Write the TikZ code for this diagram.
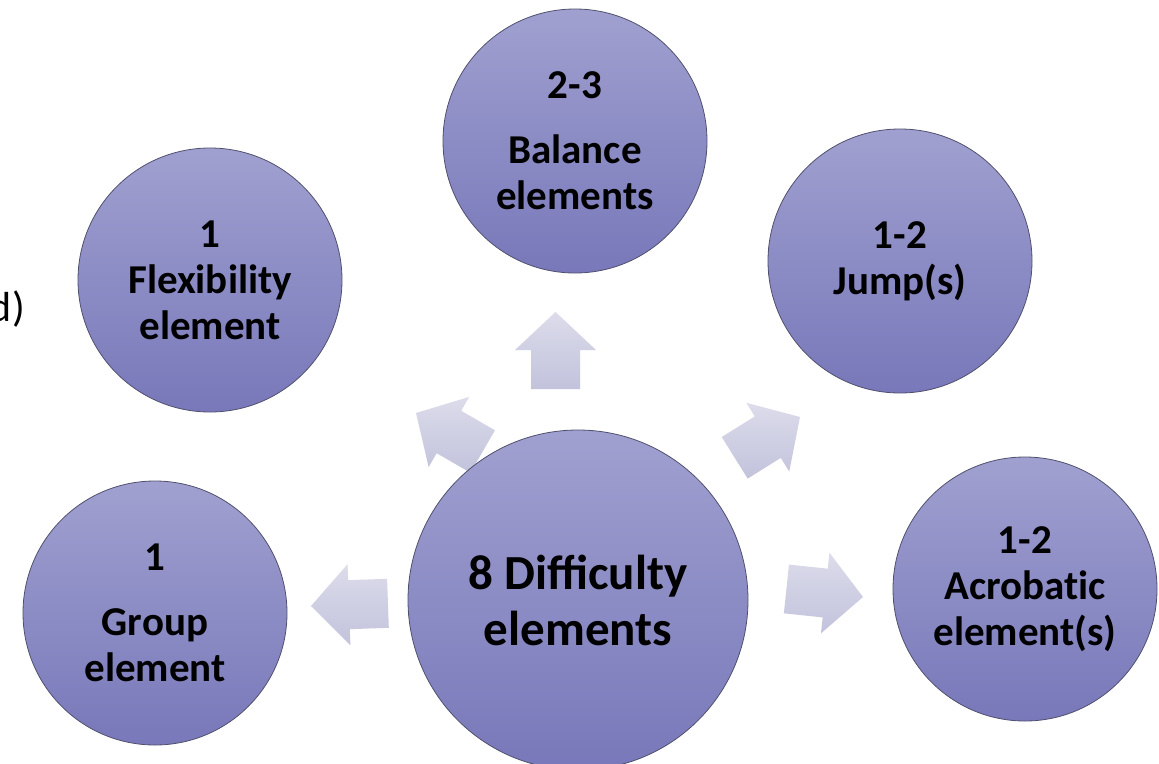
\documentclass[tikz,border=0pt]{standalone}
\usepackage{fontspec}
\setmainfont{Carlito}
\definecolor{cTop}{RGB}{160,160,208}
\definecolor{cBot}{RGB}{120,120,186}
\definecolor{cLine}{RGB}{80,80,110}
\definecolor{aTop}{RGB}{220,220,235}
\definecolor{aBot}{RGB}{194,194,220}
\tikzset{
  arrowfill/.style={top color=aTop, bottom color=aBot, draw=none},
  barrow/.pic={\path[arrowfill] (-77,-24.5) -- (-38,-24.5) -- (-38,-40.5) -- (0,0) -- (-38,40.5) -- (-38,24.5) -- (-77,24.5) -- cycle;},
  circ/.style={circle, draw=cLine, line width=0.8pt, top color=cTop, bottom color=cBot,
    minimum size=264pt, inner sep=0pt, align=center,
    font=\bfseries\fontsize{41}{46}\selectfont},
  bigcirc/.style={circ, minimum size=340pt, font=\bfseries\fontsize{49}{56}\selectfont},
}
\begin{document}
\begin{tikzpicture}[x=1pt,y=-1pt]
\useasboundingbox (0,0) rectangle (1159,763);
\clip (0,0) rectangle (1159,763);
\fill[white] (0,0) rectangle (1159,763);
% block arrows
\pic[rotate=90] at (555.5,312) {barrow};
\pic[rotate=150] at (416,413) {barrow};
\pic[rotate=32] at (800,417) {barrow};
\pic[rotate=182] at (311,606) {barrow};
\pic[rotate=-6] at (863,597) {barrow};
% circles
\node[circ] (bal) at (575,141) {2-3\\[19pt]Balance\\elements};
\node[circ] (flex) at (210,280) {1\\Flexibility\\element};
\node[circ] (jump) at (900,261) {1-2\\Jump(s)};
\node[circ] (grp) at (155,613) {1\\[19pt]Group\\element};
\node[circ] (acro) at (1025,589) {1-2\\Acrobat\kern0pt ic\\element(s)};
\node[bigcirc] (c) at (578,600) {8 Difficulty\\elements};
% clipped text at left edge
\node[anchor=base east, inner sep=0pt, font=\fontsize{42}{48}\selectfont] (dtxt) at (25,321) {d)};
\end{tikzpicture}
\end{document}
